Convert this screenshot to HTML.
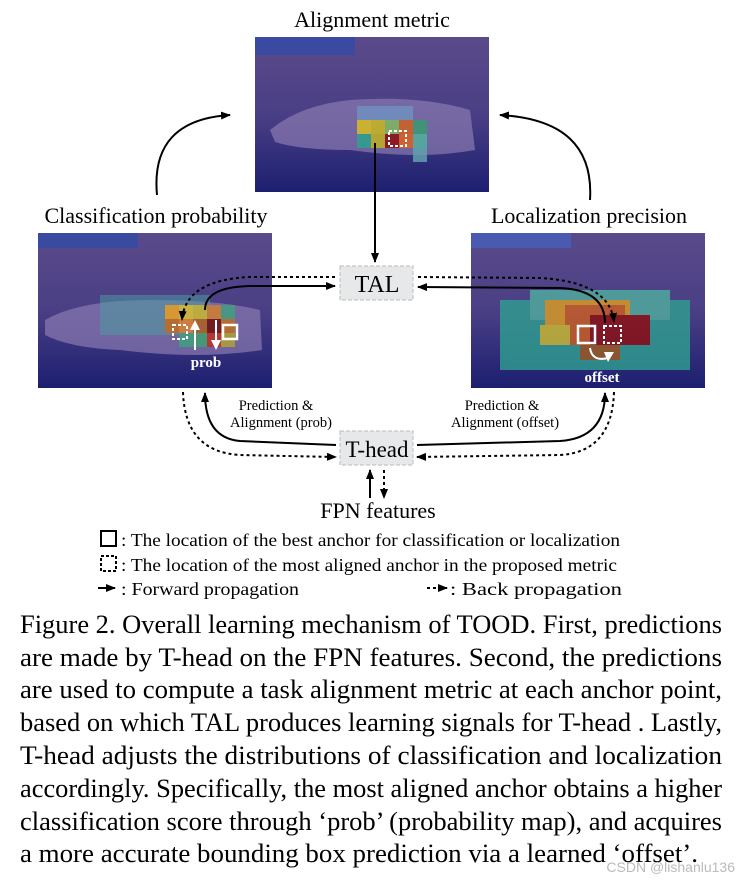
<!DOCTYPE html>
<html><head><meta charset="utf-8"><style>
html,body{margin:0;padding:0;background:#fff;}
svg text{font-family:"Liberation Serif","Times New Roman",serif;}
</style></head><body>
<svg width="749" height="882" viewBox="0 0 749 882" style="display:block" font-family="Liberation Serif, Times New Roman, serif">
<defs>
<marker id="a" markerWidth="10" markerHeight="8" refX="9" refY="4" orient="auto" markerUnits="userSpaceOnUse"><path d="M0,0 L10,4 L0,8 Z" fill="#000"/></marker>
<linearGradient id="bg" x1="0" y1="0" x2="0" y2="1"><stop offset="0" stop-color="#5a4a8a"/><stop offset="0.5" stop-color="#4a3f85"/><stop offset="1" stop-color="#1c1f70"/></linearGradient>
</defs>
<text x="372" y="27" font-size="22" text-anchor="middle">Alignment metric</text>
<text x="156" y="223" font-size="22" text-anchor="middle">Classification probability</text>
<text x="589" y="223" font-size="22" text-anchor="middle">Localization precision</text>

<rect x="255" y="37" width="234" height="155" fill="url(#bg)"/>
<rect x="255" y="37" width="100" height="18" fill="#3a4aa0"/>
<path d="M270,130 Q300,105 350,100 Q420,95 470,110 L475,150 Q420,160 350,150 Q300,150 275,142Z" fill="#8a7ab0" opacity="0.7"/>
<g opacity="0.85">
<rect x="357" y="120" width="14" height="14" fill="#d8c020"/><rect x="371" y="120" width="14" height="14" fill="#c8b820"/><rect x="385" y="120" width="14" height="14" fill="#80b860"/><rect x="399" y="120" width="14" height="14" fill="#d06020"/><rect x="413" y="120" width="14" height="14" fill="#3a9a70"/>
<rect x="357" y="134" width="14" height="14" fill="#30a090"/><rect x="371" y="134" width="14" height="14" fill="#c0b020"/><rect x="385" y="134" width="14" height="14" fill="#901010"/><rect x="399" y="134" width="14" height="14" fill="#e06020"/><rect x="413" y="134" width="14" height="14" fill="#50b0a0"/>
<rect x="357" y="106" width="56" height="14" fill="#7090c0"/>
<rect x="413" y="148" width="14" height="14" fill="#60a0b0"/>
</g>
<rect x="389" y="131" width="17" height="15" fill="none" stroke="#fff" stroke-width="2" stroke-dasharray="3,2"/>

<rect x="38" y="233" width="234" height="155" fill="url(#bg)"/>
<rect x="38" y="233" width="100" height="15" fill="#3a4aa0"/>
<path d="M45,320 Q80,300 150,300 Q220,300 260,310 L262,350 Q200,360 120,350 Q70,348 45,335Z" fill="#8a7ab0" opacity="0.7"/>
<g opacity="0.85">
<rect x="100" y="295" width="110" height="40" fill="#4aa0a0" opacity="0.6"/>
<rect x="165" y="305" width="14" height="14" fill="#e8a020"/><rect x="179" y="305" width="14" height="14" fill="#d8c030"/><rect x="193" y="305" width="14" height="14" fill="#c8b830"/><rect x="207" y="305" width="14" height="14" fill="#d08030"/><rect x="221" y="305" width="14" height="14" fill="#40a080"/>
<rect x="165" y="319" width="14" height="14" fill="#c07020"/><rect x="179" y="319" width="14" height="14" fill="#e08030"/><rect x="193" y="319" width="14" height="14" fill="#b06020"/><rect x="207" y="319" width="14" height="14" fill="#701010"/><rect x="221" y="319" width="14" height="14" fill="#c07020"/>
<rect x="179" y="333" width="14" height="14" fill="#40a080"/><rect x="193" y="333" width="14" height="14" fill="#40a070"/><rect x="207" y="333" width="14" height="14" fill="#c03020"/><rect x="221" y="333" width="14" height="14" fill="#b0a030"/>
</g>
<rect x="173" y="325" width="14" height="14" fill="none" stroke="#fff" stroke-width="2" stroke-dasharray="3,2"/>
<rect x="223" y="325" width="14" height="14" fill="none" stroke="#fff" stroke-width="2.5"/>
<path d="M195,350 L195,328" stroke="#fff" stroke-width="2"/><path d="M190,330 L195,320 L200,330Z" fill="#fff"/>
<path d="M216,320 L216,342" stroke="#fff" stroke-width="2"/><path d="M211,340 L216,350 L221,340Z" fill="#fff"/>
<text x="206" y="367" font-size="15" font-weight="bold" fill="#fff" text-anchor="middle">prob</text>

<rect x="471" y="233" width="234" height="155" fill="url(#bg)"/>
<rect x="471" y="233" width="100" height="15" fill="#4a5ab0"/>
<g opacity="0.8">
<rect x="500" y="300" width="190" height="70" fill="#30a090"/>
<rect x="530" y="290" width="140" height="30" fill="#50b0a0"/>
<rect x="545" y="300" width="85" height="25" fill="#e0a020"/>
<rect x="565" y="305" width="60" height="40" fill="#d06020"/>
<rect x="590" y="315" width="60" height="30" fill="#901010"/>
<rect x="540" y="325" width="30" height="20" fill="#d0c030"/>
<rect x="580" y="345" width="40" height="15" fill="#a06020"/>
</g>
<rect x="578" y="326" width="17" height="17" fill="none" stroke="#fff" stroke-width="2.5"/>
<rect x="604" y="326" width="17" height="17" fill="none" stroke="#fff" stroke-width="2" stroke-dasharray="3,2"/>
<path d="M590,348 Q592,362 608,358" stroke="#fff" stroke-width="2" fill="none"/><path d="M604,352 L614,352 L608,362Z" fill="#fff"/>
<text x="602" y="382" font-size="15" font-weight="bold" fill="#fff" text-anchor="middle">offset</text>

<rect x="340" y="266" width="73" height="34" fill="#e6e8ea" stroke="#bbb" stroke-dasharray="4,2"/>
<text x="377" y="292" font-size="24" text-anchor="middle">TAL</text>
<rect x="340" y="431" width="73" height="34" fill="#e6e8ea" stroke="#bbb" stroke-dasharray="4,2"/>
<text x="377" y="457" font-size="23" text-anchor="middle">T-head</text>

<g fill="none" stroke="#000" stroke-width="2">
<path d="M375,143 Q375,170 375,262" marker-end="url(#a)"/>
<path d="M157,195 Q150,120 230,115" marker-end="url(#a)"/>
<path d="M590,200 Q595,120 500,115" marker-end="url(#a)"/>
<path d="M205,310 Q205,287 250,286 L335,286" marker-end="url(#a)"/>
<path d="M605,323 Q605,290 560,288 L418,287" marker-end="url(#a)"/>
<path d="M336,445 L240,441 Q205,438 205,393" marker-end="url(#a)"/>
<path d="M417,445 L560,441 Q605,438 605,393" marker-end="url(#a)"/>
<path d="M370,498 L370,470" marker-end="url(#a)"/>
</g>
<g fill="none" stroke="#000" stroke-width="2" stroke-dasharray="3,3">
<path d="M335,277 L250,277 Q185,280 182,320" marker-end="url(#a)"/>
<path d="M418,277 L540,278 Q610,282 614,322" marker-end="url(#a)"/>
<path d="M183,392 Q185,452 240,455 L336,457" marker-end="url(#a)"/>
<path d="M614,392 Q612,452 560,455 L417,457" marker-end="url(#a)"/>
<path d="M384,470 L384,498" marker-end="url(#a)"/>
</g>
<text x="276" y="410" font-size="14.5" text-anchor="middle">Prediction &amp;</text>
<text x="281" y="427" font-size="14.5" text-anchor="middle">Alignment (prob)</text>
<text x="502" y="410" font-size="14.5" text-anchor="middle">Prediction &amp;</text>
<text x="505" y="427" font-size="14.5" text-anchor="middle">Alignment (offset)</text>
<text x="378" y="518" font-size="22" text-anchor="middle">FPN features</text>

<rect x="101" y="531" width="15" height="15" fill="none" stroke="#000" stroke-width="2"/>
<text x="121" y="546" font-size="18" textLength="499" lengthAdjust="spacingAndGlyphs">: The location of the best anchor for classification or localization</text>
<rect x="101" y="556" width="15" height="15" fill="none" stroke="#000" stroke-width="2" stroke-dasharray="3,2"/>
<text x="121" y="571" font-size="18" textLength="496" lengthAdjust="spacingAndGlyphs">: The location of the most aligned anchor in the proposed metric</text>
<path d="M98,588 L115,588" stroke="#000" stroke-width="2" marker-end="url(#a)"/>
<text x="121" y="595" font-size="18" textLength="178" lengthAdjust="spacingAndGlyphs">: Forward propagation</text>
<path d="M427,588 L447,588" stroke="#000" stroke-width="2" stroke-dasharray="3,3" marker-end="url(#a)"/>
<text x="450" y="595" font-size="18" textLength="172" lengthAdjust="spacingAndGlyphs">: Back propagation</text>

<g font-size="26">
<text x="20" y="633" textLength="702" lengthAdjust="spacingAndGlyphs">Figure 2. Overall learning mechanism of TOOD. First, predictions</text>
<text x="20" y="666" textLength="702" lengthAdjust="spacingAndGlyphs">are made by T-head on the FPN features.  Second, the predictions</text>
<text x="20" y="698" textLength="702" lengthAdjust="spacingAndGlyphs">are used to compute a task alignment metric at each anchor point,</text>
<text x="20" y="731" textLength="702" lengthAdjust="spacingAndGlyphs">based on which TAL produces learning signals for T-head . Lastly,</text>
<text x="20" y="764" textLength="702" lengthAdjust="spacingAndGlyphs">T-head adjusts the distributions of classification and localization</text>
<text x="20" y="797" textLength="702" lengthAdjust="spacingAndGlyphs">accordingly. Specifically, the most aligned anchor obtains a higher</text>
<text x="20" y="830" textLength="702" lengthAdjust="spacingAndGlyphs">classification score through ‘prob’ (probability map), and acquires</text>
<text x="20" y="862" textLength="678" lengthAdjust="spacingAndGlyphs">a more accurate bounding box prediction via a learned ‘offset’.</text>
</g>
<text x="735" y="872" font-size="14" fill="#bbb" text-anchor="end" style="font-family:'Liberation Sans',sans-serif">CSDN @lishanlu136</text>
</svg>
</body></html>
